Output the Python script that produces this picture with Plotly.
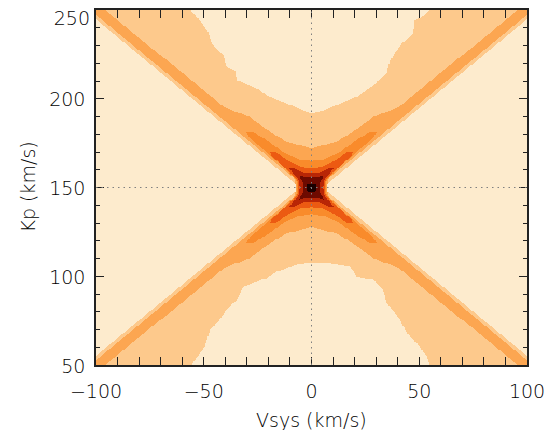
import numpy as np
import plotly.graph_objects as go

# ---------------- data ----------------
VSYS_RANGE = [-100, 100]
KP_RANGE = [50, 250]
KP0 = 150.0          # Kp of the peak
VS0 = 0.0            # Vsys of the peak

# ragged edge of the pale "mountain" inside the top wedge (Kp above this is pale)
TOP_V = [-58, -56.3, -51.7, -47.9, -46.3, -40.9, -39.4, -35.5, -34.7, -25.4, -19.3, -11.5, -3.8, 0,
         5.5, 13.2, 21, 28.7, 34.9, 36.4, 41.9, 47.2, 48, 51.9, 55, 57]
TOP_KP = [255, 250, 244.1, 237.5, 231, 224.4, 217.9, 216, 210.4, 205.7, 201, 197.3, 193.5, 192,
          193.5, 197.3, 201, 207.6, 214.2, 221.6, 231, 236.6, 244.1, 246.9, 249.7, 255]
# ragged edge of the pale "mountain" inside the bottom wedge (Kp below this is pale)
BOT_V = [-58, -55.6, -53.3, -49.4, -47.1, -43.2, -39.4, -34.7, -31.6, -20.8, -16.1, -6.9, 0,
         7.1, 17.9, 21, 28.7, 33.3, 34.9, 41.1, 44.2, 48.8, 53.5, 55, 57]
BOT_KP = [45, 50.3, 54.1, 60.6, 70, 74.6, 81.2, 86.8, 94.3, 99, 102.7, 106.5, 107.4,
          107.4, 105.5, 99.9, 98, 92.4, 84.9, 75.6, 68.1, 62.5, 55, 50.3, 45]

# outer edge of the light band along the X arms: |Vsys| <= |Kp-150| + OUT1
OUT1 = 5.0

# level bands around the X (folded: a=|Vsys|, b=|Kp-150|)
# level k present where a <= A_k(b) and b <= B_k(a)
A_B = {2: [0, 5, 10, 100],
       3: [0, 4, 10, 20, 28, 31, 31.5],
       4: [0, 4, 8, 14, 18, 19.5, 20],
       5: [0, 4, 8, 10.5, 11],
       6: [0, 3, 5, 6.5, 7],
       7: [0, 1.5, 2.5, 3]}
A_V = {2: [7, 8, 12.5, 102.5],
       3: [6.5, 7, 11.5, 21, 28.5, 30, -1],
       4: [6, 6.5, 9.5, 15, 18.5, 19, -1],
       5: [5.4, 5.8, 8.5, 10, -1],
       6: [3.7, 3.9, 5, 5.6, -1],
       7: [2.2, 2, 1.2, -1]}
B_A = {2: [0, 12, 20, 29, 40, 100],
       3: [0, 6, 12, 20, 28, 30, 30.5],
       4: [0, 5, 10, 15, 18, 19, 19.5],
       5: [0, 4, 8, 10, 10.5],
       6: [0, 3, 4.5, 5.5, 6],
       7: [0, 1.5, 2.2, 2.5]}
B_V = {2: [22, 26, 32, 40, 45, 104],
       3: [14.8, 16, 19, 26, 32, 31.5, -1],
       4: [10.8, 11.8, 14.5, 18.5, 20.5, 20.5, -1],
       5: [8.2, 8.5, 10.5, 11, -1],
       6: [5.5, 5.6, 6.4, 6.5, -1],
       7: [2.6, 2.2, 1.5, -1]}

LEVEL_COLORS = ["#FDEBCD", "#FDC98C", "#FCA651", "#F98B2B", "#EC5A12", "#B82606", "#6E0A00", "#1A0000"]

X_TICKS = [-100, -50, 0, 50, 100]
X_TICKTEXT = ["\u2212100", "\u221250", "0", "50", "100"]
Y_TICKS = [50, 100, 150, 200, 250]
Y_TICKTEXT = ["50", "100", "150", "200", ""]
Y_TOP_TICK = [250]
Y_TOP_TEXT = ["250"]

# ---------------- build level map ----------------
vs = np.arange(VSYS_RANGE[0], VSYS_RANGE[1] + 0.01, 0.5)
kp = np.arange(KP_RANGE[0], KP_RANGE[1] + 0.01, 0.5)
V, K = np.meshgrid(vs, kp)
a = np.abs(V - VS0)
b = np.abs(K - KP0)

top_edge = np.interp(V, TOP_V, TOP_KP)
bot_edge = np.interp(V, BOT_V, BOT_KP)
pale_mount = ((K > KP0) & (K >= top_edge)) | ((K < KP0) & (K <= bot_edge))

z = np.zeros_like(V, dtype=int)
z[(a <= b + OUT1) & ~pale_mount] = 1
for k in range(2, 8):
    Ak = np.interp(b, A_B[k], A_V[k])
    Bk = np.interp(a, B_A[k], B_V[k])
    z[(a <= Ak) & (b <= Bk)] = k

n = len(LEVEL_COLORS)
cs = []
for i, c in enumerate(LEVEL_COLORS):
    cs.append([i / n, c])
    cs.append([(i + 1) / n, c])

fig = go.Figure(go.Heatmap(x=vs, y=kp, z=z, colorscale=cs, zmin=-0.5, zmax=n - 0.5,
                           showscale=False, hoverinfo="skip"))
# empty trace so the overlay axis carrying the top label is drawn
fig.add_trace(go.Scatter(x=[], y=[], yaxis="y2", showlegend=False, hoverinfo="skip"))

fig.add_shape(type="line", x0=VS0, x1=VS0, y0=KP_RANGE[0], y1=KP_RANGE[1],
              line=dict(color="#808080", width=1, dash="1.5px,4px"), layer="above")
fig.add_shape(type="line", x0=VSYS_RANGE[0], x1=VSYS_RANGE[1], y0=KP0, y1=KP0,
              line=dict(color="#808080", width=1, dash="1.5px,4px"), layer="above")

font = dict(family="DejaVu Sans, Liberation Sans, sans-serif", size=19, color="#000", weight=200)
axis_common = dict(showgrid=False, zeroline=False, ticks="inside", ticklen=8, tickwidth=1,
                   tickcolor="#222", mirror="allticks", showline=True, linecolor="#222",
                   linewidth=1.5, tickfont=font, automargin=False, ticklabeloverflow="allow",
                   minor=dict(ticks="inside", ticklen=4, tickwidth=1, tickcolor="#222", dtick=10))
fig.update_xaxes(range=VSYS_RANGE, tickvals=X_TICKS, ticktext=X_TICKTEXT,
                 ticklabelstandoff=8, **axis_common)
fig.update_yaxes(range=KP_RANGE, tickvals=Y_TICKS, ticktext=Y_TICKTEXT,
                 ticklabelstandoff=5, ticklabelshift=1, **axis_common)
fig.update_layout(yaxis2=dict(range=KP_RANGE, overlaying="y", side="left", showgrid=False,
                              zeroline=False, showline=False, ticks="", tickvals=Y_TOP_TICK,
                              ticktext=Y_TOP_TEXT, tickfont=font, automargin=False,
                              ticklabeloverflow="allow", ticklabelstandoff=5, ticklabelshift=8))
fig.add_annotation(text="Vsys (km/s)", xref="paper", yref="paper", x=0.5, y=0,
                   xanchor="center", yanchor="middle", yshift=-55, showarrow=False, font=font)
fig.add_annotation(text="Kp (km/s)", xref="paper", yref="paper", x=0, y=0.5,
                   xanchor="center", yanchor="middle", xshift=-69, textangle=-90,
                   showarrow=False, font=font)
# page body adds an 8px offset, so the figure is sized to fit inside the 556x430 window
fig.update_layout(width=548, height=422, margin=dict(l=88, r=29, t=2, b=65),
                  paper_bgcolor="white", plot_bgcolor="white", font=font)
fig.write_html("out.html")
